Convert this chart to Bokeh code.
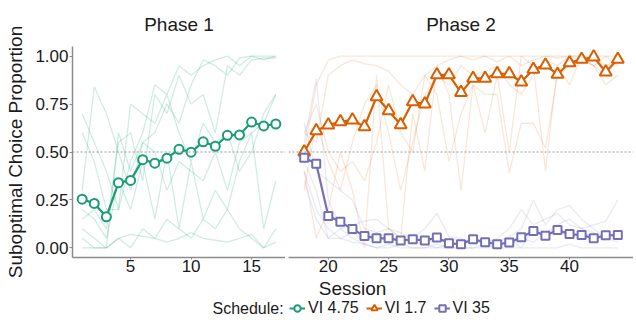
from bokeh.plotting import figure
from bokeh.layouts import row, column
from bokeh.models import (Range1d, FixedTicker, PrintfTickFormatter, Span, Label,
                          Legend, LegendItem, ColumnDataSource)
from bokeh.embed import file_html
from bokeh.resources import INLINE

# ---------------- data ----------------
sessions_p1 = list(range(1, 18))
sessions_p2 = list(range(18, 45))

mean_vi475 = [0.254, 0.232, 0.162, 0.340, 0.352, 0.460, 0.442, 0.468, 0.514, 0.499,
              0.553, 0.530, 0.587, 0.589, 0.656, 0.636, 0.646]
mean_vi17 = [0.500, 0.611, 0.641, 0.658, 0.667, 0.632, 0.788, 0.715, 0.642, 0.762,
             0.750, 0.902, 0.902, 0.810, 0.884, 0.884, 0.908, 0.908, 0.865, 0.931,
             0.953, 0.905, 0.965, 0.983, 0.995, 0.917, 0.983]
mean_vi35 = [0.470, 0.439, 0.166, 0.136, 0.098, 0.062, 0.050, 0.050, 0.038, 0.045,
             0.038, 0.054, 0.024, 0.019, 0.045, 0.030, 0.019, 0.028, 0.055, 0.088,
             0.064, 0.093, 0.072, 0.067, 0.050, 0.066, 0.067]

subj_vi475 = [
    [0.70, 0.55, 0.40, 0.20, 0.45, 0.60, 0.85, 0.80, 0.95, 0.90, 0.95, 0.98, 1.00, 0.95, 1.00, 1.00, 1.00],
    [0.30, 0.84, 0.70, 0.50, 0.30, 0.55, 0.60, 0.75, 0.65, 0.85, 0.98, 0.95, 0.90, 0.99, 1.00, 0.98, 1.00],
    [0.15, 0.20, 0.10, 0.55, 0.60, 0.35, 0.80, 0.70, 0.90, 0.75, 0.80, 0.60, 0.95, 0.90, 0.98, 0.99, 0.99],
    [0.10, 0.05, 0.00, 0.60, 0.40, 0.55, 0.50, 0.30, 0.45, 0.40, 0.35, 0.50, 0.30, 0.55, 0.60, 0.65, 0.80],
    [0.20, 0.15, 0.05, 0.35, 0.20, 0.45, 0.15, 0.50, 0.10, 0.45, 0.15, 0.30, 0.20, 0.45, 0.60, 0.10, 0.35],
    [0.05, 0.00, 0.00, 0.05, 0.00, 0.10, 0.05, 0.15, 0.10, 0.05, 0.15, 0.10, 0.20, 0.10, 0.05, 0.00, 0.10],
    [0.00, 0.00, 0.00, 0.05, 0.07, 0.06, 0.05, 0.03, 0.05, 0.08, 0.05, 0.04, 0.03, 0.05, 0.07, 0.00, 0.03],
    [0.60, 0.45, 0.20, 0.20, 0.75, 0.70, 0.65, 0.80, 0.60, 0.45, 0.65, 0.55, 0.60, 0.40, 0.50, 0.70, 0.80],
]
subj_vi17 = [
    [0.50, 0.85, 0.98, 1.00, 1.00, 1.00, 1.00, 1.00, 1.00, 1.00, 1.00, 1.00, 1.00, 1.00,
     1.00, 1.00, 1.00, 1.00, 1.00, 1.00, 1.00, 1.00, 1.00, 1.00, 1.00, 1.00, 1.00],
    [0.60, 0.55, 0.90, 0.95, 0.98, 0.96, 0.95, 0.92, 0.85, 0.80, 0.90, 0.95, 0.98, 1.00,
     0.98, 1.00, 0.97, 1.00, 0.95, 0.98, 1.00, 0.99, 1.00, 1.00, 0.99, 0.95, 0.98],
    [0.40, 0.05, 0.20, 0.50, 0.30, 0.00, 0.90, 0.10, 0.05, 0.70, 0.40, 0.95, 0.80, 0.30,
     0.85, 0.60, 0.90, 0.50, 1.00, 0.95, 0.40, 0.95, 0.85, 1.00, 0.95, 1.00, 0.95],
    [0.30, 0.65, 0.45, 0.30, 0.55, 0.75, 0.85, 0.60, 0.30, 0.55, 0.80, 0.90, 0.85, 0.95,
     0.90, 0.92, 0.95, 0.85, 0.80, 0.90, 0.98, 0.95, 1.00, 0.98, 0.95, 0.85, 0.90],
    [0.60, 0.75, 0.50, 0.40, 0.45, 0.35, 0.55, 0.85, 0.60, 0.50, 0.90, 0.80, 0.45, 0.70,
     0.85, 0.80, 0.80, 0.39, 0.65, 0.65, 0.52, 0.90, 0.95, 0.98, 0.95, 0.90, 1.00],
]
subj_vi35 = [
    [0.55, 0.88, 0.25, 0.10, 0.05, 0.02, 0.00, 0.02, 0.00, 0.00, 0.00, 0.00, 0.00, 0.00,
     0.00, 0.00, 0.00, 0.00, 0.00, 0.00, 0.00, 0.00, 0.02, 0.00, 0.00, 0.00, 0.00],
    [0.65, 0.40, 0.35, 0.30, 0.25, 0.10, 0.08, 0.05, 0.05, 0.06, 0.04, 0.03, 0.05, 0.04,
     0.03, 0.03, 0.05, 0.10, 0.20, 0.12, 0.15, 0.18, 0.12, 0.10, 0.08, 0.05, 0.03],
    [0.45, 0.30, 0.05, 0.05, 0.08, 0.05, 0.08, 0.10, 0.08, 0.05, 0.10, 0.18, 0.06, 0.05,
     0.02, 0.04, 0.03, 0.06, 0.10, 0.25, 0.12, 0.20, 0.22, 0.15, 0.10, 0.05, 0.08],
    [0.40, 0.20, 0.10, 0.05, 0.03, 0.02, 0.00, 0.00, 0.02, 0.00, 0.00, 0.02, 0.00, 0.00,
     0.00, 0.02, 0.00, 0.05, 0.00, 0.10, 0.08, 0.10, 0.05, 0.08, 0.06, 0.04, 0.06],
    [0.35, 0.15, 0.05, 0.10, 0.12, 0.14, 0.15, 0.10, 0.05, 0.03, 0.02, 0.00, 0.02, 0.03,
     0.05, 0.02, 0.00, 0.02, 0.05, 0.03, 0.08, 0.12, 0.15, 0.10, 0.12, 0.14, 0.25],
]

y_ticks = [0, 0.25, 0.5, 0.75, 1.0]
x_ticks_p1 = [5, 10, 15]
x_ticks_p2 = [20, 25, 30, 35, 40]
schedule_labels = ["VI 4.75", "VI 1.7", "VI 35"]
phase_titles = ["Phase 1", "Phase 2"]

# ---------------- styles ----------------
GREEN, ORANGE, PURPLE = "#1B9E77", "#D95F02", "#7570B3"
FONT = "Liberation Sans"
AXIS_COL = "#8c8c8c"
TXT = "#1a1a1a"
TOP, FRAME_H, BOTTOM = 45, 212, 20
H = TOP + FRAME_H + BOTTOM          # 277
W1, W2 = 285, 348
H3 = 329 - H                        # 52


def style(p, title, xt):
    p.title.text = title
    p.title.align = "center"
    p.title.text_font = FONT
    p.title.text_font_size = "19px"
    p.title.text_font_style = "normal"
    p.title.text_color = TXT
    p.title.standoff = 23
    p.xgrid.visible = False
    p.ygrid.visible = False
    p.outline_line_color = None
    p.background_fill_color = "white"
    p.border_fill_color = "white"
    ax = p.xaxis[0]
    ax.ticker = FixedTicker(ticks=xt)
    ax.axis_line_color = AXIS_COL
    ax.axis_line_width = 1.5
    ax.major_tick_line_color = AXIS_COL
    ax.major_tick_out = 2
    ax.major_tick_in = 0
    ax.minor_tick_line_color = None
    ax.major_label_text_font = FONT
    ax.major_label_text_font_size = "17px"
    ax.major_label_text_color = TXT
    ax.major_label_standoff = 0
    p.add_layout(Span(location=0.5, dimension="width", line_color="#9a9a9a",
                      line_width=1, line_dash="2 2"))


p1 = figure(width=W1, height=H, x_range=Range1d(0.2, 17.8), y_range=Range1d(-0.05, 1.05),
            min_border_left=72, min_border_right=0, min_border_top=TOP, min_border_bottom=BOTTOM,
            output_backend="svg", toolbar_location=None)
style(p1, phase_titles[0], x_ticks_p1)
ya = p1.yaxis[0]
ya.ticker = FixedTicker(ticks=y_ticks)
ya.formatter = PrintfTickFormatter(format="%.2f")
ya.axis_line_color = AXIS_COL
ya.axis_line_width = 1.5
ya.major_tick_line_color = AXIS_COL
ya.major_tick_out = 3
ya.major_tick_in = 0
ya.minor_tick_line_color = None
ya.major_label_text_font = FONT
ya.major_label_text_font_size = "17px"
ya.major_label_text_color = TXT
ya.major_label_standoff = 1
ya.axis_label = "Suboptimal Choice Proportion"
ya.axis_label_text_font = FONT
ya.axis_label_text_font_size = "19px"
ya.axis_label_text_font_style = "normal"
ya.axis_label_text_color = TXT
ya.axis_label_standoff = 6

p2 = figure(width=W2, height=H, x_range=Range1d(16.7, 45.3), y_range=Range1d(-0.05, 1.05),
            min_border_left=3, min_border_right=0, min_border_top=TOP, min_border_bottom=BOTTOM,
            output_backend="svg", toolbar_location=None)
style(p2, phase_titles[1], x_ticks_p2)
p2.yaxis.visible = False

# faint individual lines
for s in subj_vi475:
    p1.line(sessions_p1, s, line_color=GREEN, line_alpha=0.2, line_width=1.3)
for s in subj_vi17:
    p2.line(sessions_p2, s, line_color=ORANGE, line_alpha=0.15, line_width=1.3)
for s in subj_vi35:
    p2.line(sessions_p2, s, line_color=PURPLE, line_alpha=0.15, line_width=1.3)

# mean lines
p1.line(sessions_p1, mean_vi475, line_color=GREEN, line_width=2.2)
p1.scatter(sessions_p1, mean_vi475, marker="circle", size=9, line_color=GREEN,
           fill_color="white", line_width=2)
p2.line(sessions_p2, mean_vi17, line_color=ORANGE, line_width=2.2)
p2.scatter(sessions_p2, mean_vi17, marker="triangle", size=12, line_color=ORANGE,
           fill_color="white", line_width=2)
p2.line(sessions_p2, mean_vi35, line_color=PURPLE, line_width=2.2)
p2.scatter(sessions_p2, mean_vi35, marker="square", size=8, line_color=PURPLE,
           fill_color="white", line_width=2)

# ---------------- bottom strip: axis title + legend ----------------
p3 = figure(width=W1 + W2, height=H3, x_range=Range1d(0, W1 + W2), y_range=Range1d(0, H3),
            min_border=0, output_backend="svg", toolbar_location=None)
p3.axis.visible = False
p3.xgrid.visible = False
p3.ygrid.visible = False
p3.outline_line_color = None
p3.background_fill_color = "white"
p3.border_fill_color = "white"

nan = float("nan")
keys = []
for col, mk, sz in [(GREEN, "circle", 8), (ORANGE, "triangle", 10), (PURPLE, "square", 7)]:
    src = ColumnDataSource(data=dict(x=[nan], y=[nan]))
    ln = p3.line("x", "y", source=src, line_color=col, line_width=2)
    pt = p3.scatter("x", "y", source=src, marker=mk, size=sz, line_color=col,
                    fill_color="white", line_width=2)
    keys.append([ln, pt])

legend = Legend(items=[LegendItem(label=lab, renderers=r) for lab, r in zip(schedule_labels, keys)],
                orientation="horizontal", location=(289, 12), padding=0, margin=0,
                spacing=7, glyph_width=16, glyph_height=16, label_height=18,
                label_standoff=3, label_text_font=FONT, label_text_font_size="16px",
                label_text_color=TXT, border_line_alpha=0, background_fill_alpha=0)
p3.add_layout(legend, "center")

p3.add_layout(Label(x=352, y=H3 - 11, text="Session", text_align="center",
                    text_baseline="middle", text_font=FONT,
                    text_font_size="19px", text_color=TXT))
p3.add_layout(Label(x=212, y=21, text="Schedule:", text_align="left",
                    text_baseline="middle", text_font=FONT,
                    text_font_size="16px", text_color=TXT))

layout = column(row(p1, p2, spacing=0), p3, spacing=0)
open("out.html", "w").write(file_html(layout, INLINE))
